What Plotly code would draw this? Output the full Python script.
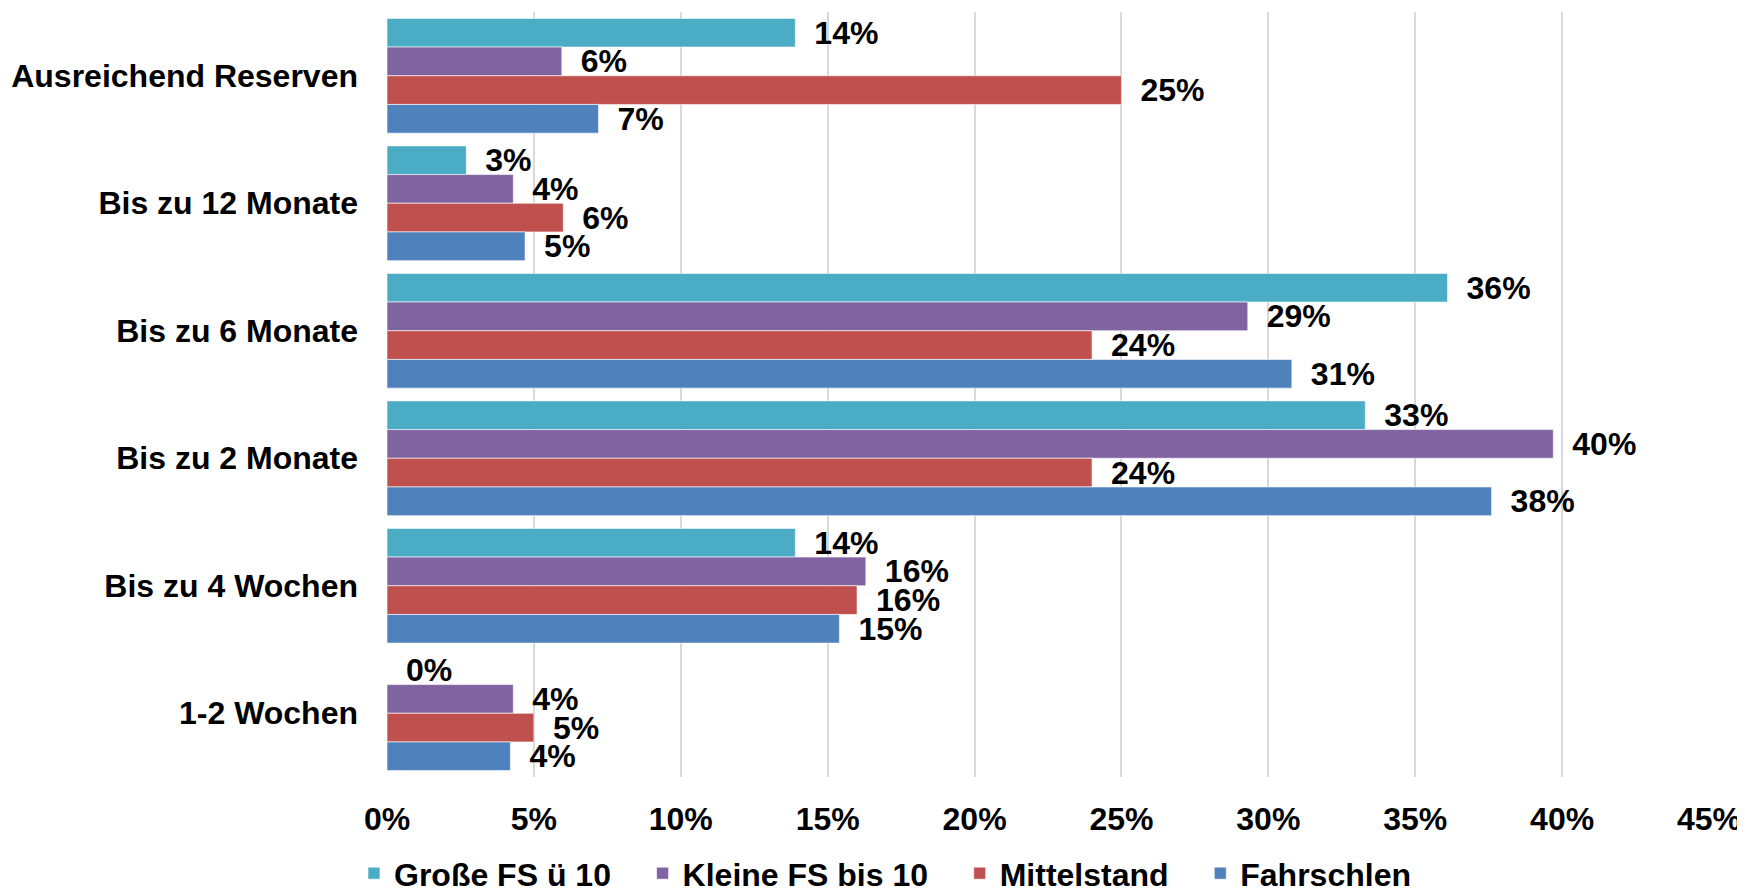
import plotly.graph_objects as go

categories = ["Ausreichend Reserven", "Bis zu 12 Monate", "Bis zu 6 Monate",
              "Bis zu 2 Monate", "Bis zu 4 Wochen", "1-2 Wochen"]

grosse = [13.9, 2.7, 36.1, 33.3, 13.9, 0.0]
kleine = [5.95, 4.3, 29.3, 39.7, 16.3, 4.3]
mittelstand = [25.0, 6.0, 24.0, 24.0, 16.0, 5.0]
fahrschulen = [7.2, 4.7, 30.8, 37.6, 15.4, 4.2]

series = [
    ("Große FS ü 10", grosse, "#4BACC6"),
    ("Kleine FS bis 10", kleine, "#8064A2"),
    ("Mittelstand", mittelstand, "#C0504D"),
    ("Fahrschlen", fahrschulen, "#4F81BD"),
]

FONT = "Liberation Sans, Arial, sans-serif"
SIZE = 32
PAD = "\u00a0" * 3  # extra room between legend entries

fig = go.Figure()
for i, (name, vals, col) in enumerate(series):
    fig.add_trace(go.Bar(
        y=categories, x=vals, name=name + (PAD if i < len(series) - 1 else ""),
        orientation="h",
        marker=dict(color=col, line=dict(color="rgba(255,255,255,0.6)", width=1)),
        text=["\u2002%d%%" % round(v) for v in vals],
        textposition="outside",
        textfont=dict(family=FONT, size=SIZE, color="black", weight="bold"),
        cliponaxis=False,
    ))

fig.update_layout(
    barmode="group",
    bargap=0.1,
    bargroupgap=0,
    width=1745, height=910,
    margin=dict(l=379, r=44, t=4, b=141),
    paper_bgcolor="white",
    plot_bgcolor="white",
    font=dict(family=FONT, size=SIZE, color="black", weight="bold"),
    xaxis=dict(range=[0, 45], dtick=5, ticksuffix="%", automargin=False,
               showgrid=True, gridcolor="#d9d9d9", gridwidth=2,
               zeroline=False, showline=False, ticklabelstandoff=20),
    yaxis=dict(autorange="reversed", showgrid=False, showline=False,
               automargin=False, ticklabelstandoff=28),
    legend=dict(orientation="h", x=0.3767, xanchor="center", y=-0.126, yanchor="middle",
                font=dict(size=SIZE, weight="bold"), itemwidth=30),
    uniformtext=dict(minsize=SIZE, mode="show"),
)

fig.write_html("out.html")
